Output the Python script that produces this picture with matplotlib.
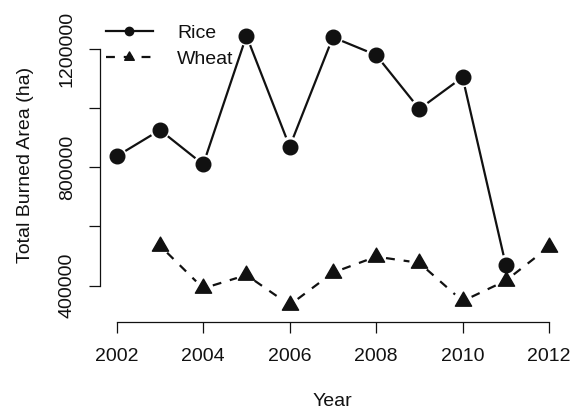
#!/usr/bin/env python3
"""Total burned area of rice and wheat residues per year, drawn R base-graphics style."""

import matplotlib

matplotlib.use("Agg")
import matplotlib.pyplot as plt
from matplotlib.lines import Line2D
from matplotlib.path import Path
import numpy as np

rice_years = [2002, 2003, 2004, 2005, 2006, 2007, 2008, 2009, 2010, 2011]
rice_area = [837000, 925000, 809000, 1243000, 869000, 1238000, 1178000, 996000, 1103000, 470000]

wheat_years = [2003, 2004, 2005, 2006, 2007, 2008, 2009, 2010, 2011, 2012]
wheat_area = [535000, 391000, 436000, 335000, 444000, 498000, 477000, 348000, 417000, 531000]

x_ticks = [2002, 2004, 2006, 2008, 2010, 2012]
y_ticks = [400000, 600000, 800000, 1000000, 1200000]
y_labelled = [400000, 800000, 1200000]

INK = "#111111"
FONT = "Liberation Sans"
FS = 14

# filled triangle centred on its centroid (like R's pch 17)
TRIANGLE = Path([(-1, -0.577), (1, -0.577), (0, 1.155), (-1, -0.577)],
                [Path.MOVETO, Path.LINETO, Path.LINETO, Path.CLOSEPOLY])

plt.rcParams["font.family"] = [FONT, "DejaVu Sans"]

W, H = 571, 409
fig = plt.figure(figsize=(W / 100, H / 100), dpi=100)
left, right, top, bottom = 99.5, 566.3, 8, 322
ax = fig.add_axes([left / W, 1 - bottom / H, (right - left) / W, (bottom - top) / H])

ax.set_xlim(2001.6, 2012.4)
ax.set_ylim(277600, 1336600)


def gapped_line(x, y, gap_px, **kw):
    """Join points with segments that stop short of each marker (R type='b')."""
    pts = ax.transData.transform(np.column_stack([x, y]))
    inv = ax.transData.inverted()
    for p0, p1 in zip(pts[:-1], pts[1:]):
        d = p1 - p0
        n = np.hypot(*d)
        if n <= 2 * gap_px:
            continue
        u = d / n
        a = inv.transform(p0 + u * gap_px)
        b = inv.transform(p1 - u * gap_px)
        ax.add_line(Line2D([a[0], b[0]], [a[1], b[1]], **kw))


gapped_line(rice_years, rice_area, 10, color=INK, lw=1.6, solid_capstyle="butt")
gapped_line(wheat_years, wheat_area, 10, color=INK, lw=1.6, linestyle=(0, (4, 4)),
            dash_capstyle="butt")

ax.plot(rice_years, rice_area, ls="none", marker="o", ms=10.5, color=INK, mec=INK)
ax.plot(wheat_years, wheat_area, ls="none", marker=TRIANGLE, ms=13.5, color=INK, mec=INK)

for side in ("top", "right"):
    ax.spines[side].set_visible(False)
ax.spines["left"].set_bounds(y_ticks[0], y_ticks[-1])
ax.spines["bottom"].set_bounds(x_ticks[0], x_ticks[-1])
for side in ("left", "bottom"):
    ax.spines[side].set_linewidth(0.9)
    ax.spines[side].set_color(INK)

ax.set_xticks(x_ticks)
ax.set_xticklabels([str(v) for v in x_ticks])
ax.set_yticks(y_ticks)
ax.set_yticklabels([str(v) if v in y_labelled else "" for v in y_ticks])
ax.tick_params(axis="both", direction="out", length=8, width=0.9, color=INK,
               labelsize=FS, labelcolor=INK)
ax.tick_params(axis="x", pad=11)
ax.tick_params(axis="y", pad=9)
plt.setp(ax.get_yticklabels(), rotation=90, va="center")

ax.set_xlabel("Year", fontsize=FS, color=INK)
ax.set_ylabel("Total Burned Area (ha)", fontsize=FS, color=INK)
ax.xaxis.set_label_coords(0.5, -0.225)
ax.yaxis.set_label_coords(-0.14, 0.5)

handles = [
    Line2D([], [], color=INK, lw=1.6, marker="o", ms=6, label="Rice"),
    Line2D([], [], color=INK, lw=1.6, ls=(0, (4, 4)), marker=TRIANGLE, ms=8,
           label="Wheat"),
]
ax.legend(handles=handles, loc="upper left", bbox_to_anchor=(0.014, 0.948),
          frameon=False, fontsize=FS, handlelength=2.4, handletextpad=1.25,
          labelspacing=0.41, borderpad=0, borderaxespad=0, labelcolor=INK)

fig.savefig("out.png", dpi=100)
